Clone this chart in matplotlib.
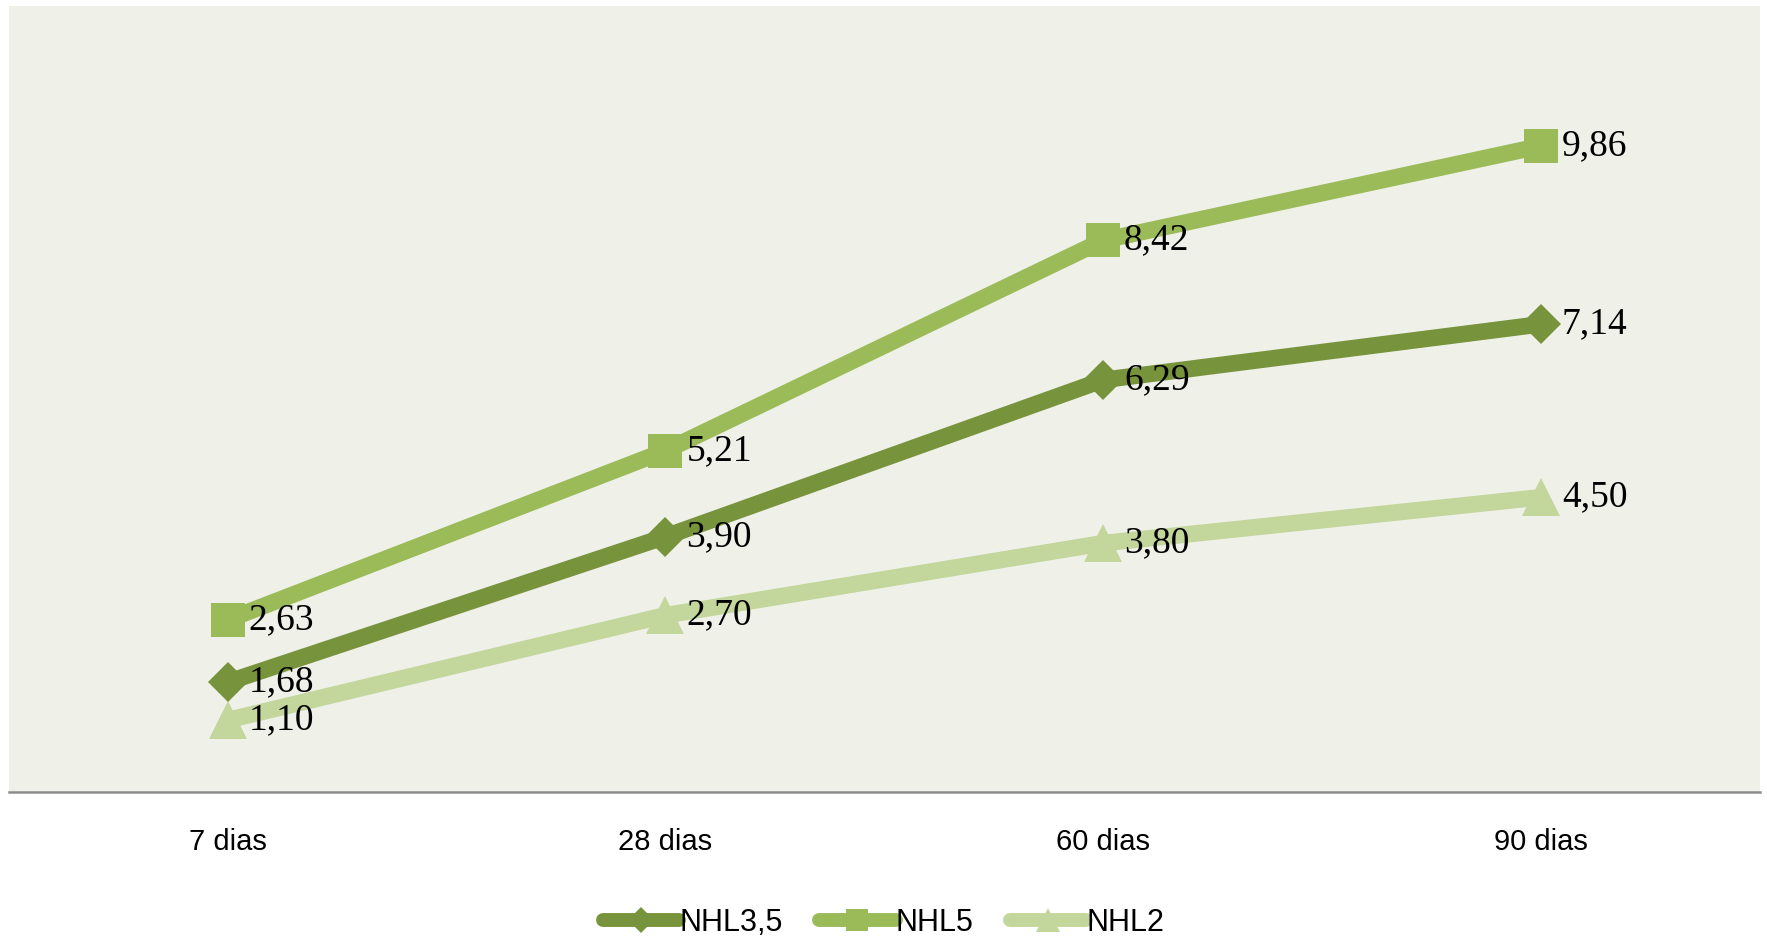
import matplotlib.pyplot as plt
from matplotlib.lines import Line2D

# data
categories = ['7 dias', '28 dias', '60 dias', '90 dias']
nhl35 = [1.68, 3.90, 6.29, 7.14]
nhl5 = [2.63, 5.21, 8.42, 9.86]
nhl2 = [1.10, 2.70, 3.80, 4.50]
series_names = ['NHL3,5', 'NHL5', 'NHL2']

colors = ['#77933C', '#9BBB59', '#C3D69B']
markers = ['D', 's', '^']
msizes = [20, 25, 27]

label_font = ['Liberation Serif', 'DejaVu Serif']
tick_font = ['Liberation Sans Narrow', 'Liberation Sans', 'DejaVu Sans']

fig = plt.figure(figsize=(17.67, 9.42), dpi=100)
ax = fig.add_axes([0.005, 0.159, 0.991, 0.835])
ax.set_facecolor('#EFF1E9')

x = list(range(len(categories)))
# draw light first so darker lines stay on top like the original
for vals, c, m, ms in zip([nhl2, nhl35, nhl5], [colors[2], colors[0], colors[1]],
                          [markers[2], markers[0], markers[1]], [msizes[2], msizes[0], msizes[1]]):
    ax.plot(x, vals, color=c, lw=12, marker=m, markersize=ms,
            markeredgewidth=0, solid_capstyle='round', zorder=3)
    for xi, v in zip(x, vals):
        ax.annotate(f'{v:.2f}'.replace('.', ','), (xi, v), xytext=(15, 0),
                    textcoords='offset points', ha='left', va='center',
                    fontsize=27, family=label_font, color='black', zorder=5)

ax.set_xlim(-0.5, 3.5)
ax.set_ylim(0, 12)
ax.set_xticks(x)
ax.set_xticklabels(categories, fontsize=21, family=tick_font)
ax.set_yticks([])
ax.tick_params(axis='x', length=0, pad=26)
for s in ['top', 'left', 'right']:
    ax.spines[s].set_visible(False)
ax.spines['bottom'].set_color('#8C8C8C')
ax.spines['bottom'].set_linewidth(1.8)

handles = [Line2D([], [], color=c, lw=10, marker=m, markersize=ms * 0.65, markeredgewidth=0,
                  solid_capstyle='round')
           for c, m, ms in zip(colors, markers, msizes)]
fig.legend(handles, series_names, loc='lower center', bbox_to_anchor=(0.5, -0.025), ncol=3,
           frameon=False, handlelength=2.5, handletextpad=0.0, columnspacing=1.2,
           prop={'family': tick_font, 'size': 22})

fig.savefig('out.png', dpi=100, facecolor='white')
